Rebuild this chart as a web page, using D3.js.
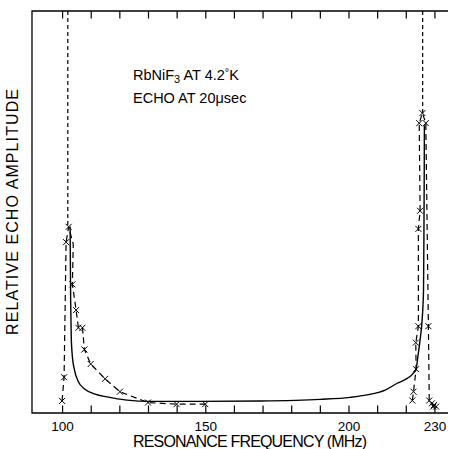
<!DOCTYPE html>
<html>
<head>
<meta charset="utf-8">
<script src="https://cdnjs.cloudflare.com/ajax/libs/d3/7.8.5/d3.min.js"></script>
<style>
  body { margin: 0; background: white; }
  svg { display: block; }
  text { font-family: 'Liberation Sans', Arial, sans-serif; fill: black; }
</style>
</head>
<body>
<div id="plot"></div>
<script>
// tick marks (MHz) and the ones that carry a label
var tickFreqs = [100, 110, 120, 130, 140, 150, 160, 170, 180, 190, 200, 210, 220, 230]
var tickLabels = [100, 150, 200, 230]

// measured echo points, low frequency edge
var lowFreq = [100.0, 100.7, 101.4, 102.3, 103.6, 104.9, 105.7, 107.1, 107.8, 110.0, 115.0, 120.2, 130.0, 140.0, 150.0]
var lowAmp  = [3.0, 8.9, 42.5, 46.3, 32.0, 25.6, 21.2, 21.2, 15.8, 12.2, 8.5, 5.3, 2.6, 2.2, 2.2]

// dashed curve through the low edge points
var lowCurveFreq = [100.0, 100.7, 101.4, 102.3, 103.9, 103.6, 104.9, 105.7, 107.1, 107.8, 110.0, 115.0, 120.2, 130.0, 140.0, 150.0]
var lowCurveAmp  = [3.0, 8.9, 42.5, 46.3, 42.0, 32.0, 25.6, 21.2, 21.2, 15.8, 12.2, 8.5, 5.3, 2.6, 2.2, 2.2]

// measured echo points, high frequency edge (in drawing order)
var highFreq = [222.3, 222.7, 223.6, 223.5, 224.4, 224.4, 225.0, 224.7, 225.8, 227.0, 227.9, 228.2, 229.1, 229.6, 229.9, 230.6]
var highAmp  = [3.1, 5.3, 10.9, 17.5, 21.6, 45.8, 50.3, 72.1, 74.6, 72.1, 21.6, 3.1, 2.4, 1.6, 2.0, 1.6]

// solid theoretical curve
var theoryFreq = [102.8, 103.0, 103.2, 103.6, 104.3, 105.6, 108.0, 111.5, 115.7, 122.7, 130.7, 148.2, 169.1, 190.1, 200.6, 206.5, 212.8, 217.0, 220.5, 222.7, 223.6, 224.3, 225.0, 225.7, 226.2, 226.35, 226.45, 226.5]
var theoryAmp  = [46.4, 28.1, 19.0, 14.0, 10.8, 7.9, 5.9, 4.7, 4.0, 3.2, 2.9, 2.9, 3.0, 3.4, 3.9, 4.5, 5.7, 7.4, 8.6, 9.9, 10.9, 14.4, 18.2, 23.1, 30.6, 45.5, 60.4, 71.6]

// short-dashed verticals above the two peaks
var guideFreq = [102.0, 225.9]
var guideLow  = [46.3, 74.6]

function draw() {
    var w = 450
    var h = 449
    var left = 32, right = 448, top = 11, bottom = 413

    var svg = d3.select("#plot").append("svg")
        .attr("width", w).attr("height", h)

    var xScale = d3.scaleLinear().domain([89.5, 234.5]).range([left, 447.3])
    var yScale = d3.scaleLinear().domain([0, 100]).range([bottom, top])

    // frame: left, top and bottom lines
    svg.append("path")
        .attr("d", "M" + right + "," + top + "H" + left + "V" + bottom + "H" + right)
        .attr("fill", "none").attr("stroke", "black").attr("stroke-width", 1.3)

    // bottom axis, ticks inside
    var xAxis = d3.axisBottom(xScale)
        .tickValues(tickFreqs)
        .tickSize(-7.5)
        .tickPadding(8.5)
        .tickFormat(function(d) { return tickLabels.indexOf(d) >= 0 ? d : "" })
    var gx = svg.append("g")
        .attr("transform", "translate(0," + bottom + ")")
        .call(xAxis)
    gx.select(".domain").remove()
    gx.selectAll("line").attr("stroke-width", 1.2)
    gx.selectAll("text").attr("font-size", 13.5)
        .attr("font-family", "'Liberation Sans', Arial, sans-serif")

    // top axis, ticks inside
    var gt = svg.append("g")
        .attr("transform", "translate(0," + top + ")")
        .call(d3.axisTop(xScale).tickValues(tickFreqs).tickSize(-7.5).tickFormat(""))
    gt.select(".domain").remove()
    gt.selectAll("line").attr("stroke-width", 1.2)

    // axis titles
    svg.append("text")
        .attr("x", 250).attr("y", 447)
        .attr("text-anchor", "middle")
        .attr("font-size", 16)
        .attr("textLength", 234).attr("lengthAdjust", "spacing")
        .text("RESONANCE FREQUENCY (MHz)")

    svg.append("text")
        .attr("transform", "translate(18," + ((top + bottom) / 2) + ") rotate(-90)")
        .attr("text-anchor", "middle")
        .attr("font-size", 16)
        .attr("textLength", 246).attr("lengthAdjust", "spacing")
        .text("RELATIVE ECHO AMPLITUDE")

    // annotation
    var t1 = svg.append("text").attr("x", 133).attr("y", 80).attr("font-size", 14.5)
    t1.append("tspan").text("RbNiF")
    t1.append("tspan").attr("font-size", 11).attr("dy", 3).text("3")
    t1.append("tspan").attr("dy", -3).text(" AT 4.2")
    t1.append("tspan").attr("font-size", 11).attr("dy", -4).text("°")
    t1.append("tspan").attr("dy", 4).text("K")

    svg.append("text").attr("x", 133).attr("y", 102.7).attr("font-size", 14.5)
        .text("ECHO AT 20\u03bcsec")

    var line = d3.line()
        .x(function(d) { return xScale(d[0]) })
        .y(function(d) { return yScale(d[1]) })

    // theoretical curve
    svg.append("path")
        .datum(d3.zip(theoryFreq, theoryAmp))
        .attr("d", line.curve(d3.curveMonotoneX))
        .attr("fill", "none").attr("stroke", "black").attr("stroke-width", 1.4)

    line.curve(d3.curveLinear)

    // dashed experimental curves
    svg.append("path")
        .datum(d3.zip(lowCurveFreq, lowCurveAmp))
        .attr("d", line)
        .attr("fill", "none").attr("stroke", "black").attr("stroke-width", 1.2)
        .attr("stroke-dasharray", "6,4")

    svg.append("path")
        .datum(d3.zip(highFreq, highAmp))
        .attr("d", line)
        .attr("fill", "none").attr("stroke", "black").attr("stroke-width", 1.2)
        .attr("stroke-dasharray", "6,4")

    // short dashed verticals
    svg.selectAll(".guide")
        .data(d3.zip(guideFreq, guideLow))
        .enter().append("line")
        .attr("class", "guide")
        .attr("x1", function(d) { return xScale(d[0]) })
        .attr("x2", function(d) { return xScale(d[0]) })
        .attr("y1", yScale(100))
        .attr("y2", function(d) { return yScale(d[1]) })
        .attr("stroke", "black").attr("stroke-width", 1.2)
        .attr("stroke-dasharray", "4,3")

    // cross markers
    var pts = d3.zip(lowFreq, lowAmp).concat(d3.zip(highFreq, highAmp))
    var s = 3
    svg.selectAll(".cross")
        .data(pts)
        .enter().append("path")
        .attr("class", "cross")
        .attr("d", function(d) {
            var cx = xScale(d[0]), cy = yScale(d[1])
            return "M" + (cx - s) + "," + (cy - s) + "L" + (cx + s) + "," + (cy + s) +
                   "M" + (cx - s) + "," + (cy + s) + "L" + (cx + s) + "," + (cy - s)
        })
        .attr("stroke", "black").attr("stroke-width", 1).attr("fill", "none")
}

draw()
</script>
</body>
</html>
